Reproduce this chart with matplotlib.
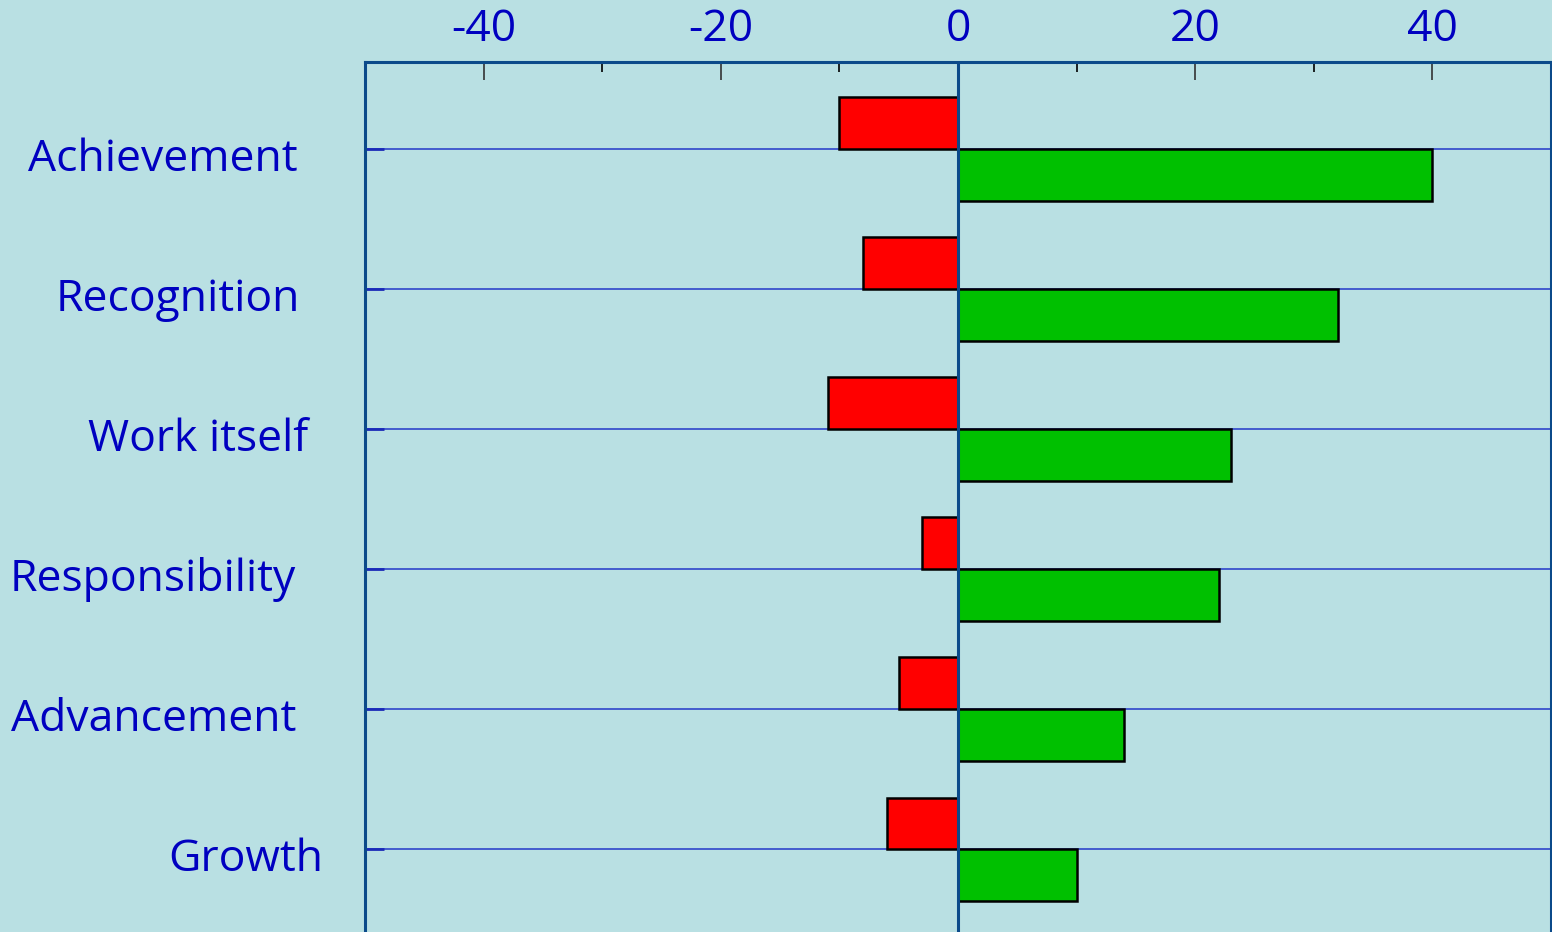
import numpy as np
import matplotlib
matplotlib.use("Agg")
import matplotlib.pyplot as plt
from matplotlib.ticker import MultipleLocator

plt.rcParams['font.family'] = ['Open Sans', 'DejaVu Sans']

# data
factors = ["Achievement", "Recognition", "Work itself", "Responsibility", "Advancement", "Growth"]
dissatisfaction = [-10, -8, -11, -3, -5, -6]   # red bars
satisfaction = [40, 32, 23, 22, 14, 10]        # green bars
xticks = [-40, -20, 0, 20, 40]

bg = '#b9e0e3'
spine_col = '#0b4a8a'
grid_col = '#2438c8'
text_col = '#0000c0'

fig = plt.figure(figsize=(15.52, 9.32), dpi=100, facecolor=bg)
ax = fig.add_axes([365/1552, 0, (1551-365)/1552, (932-62)/932], facecolor=bg)

y = np.arange(len(factors))
h = 0.37
ax.barh(y - h/2, dissatisfaction, height=h, color='#ff0000', edgecolor='black', linewidth=1.8, zorder=3)
ax.barh(y + h/2, satisfaction, height=h, color='#00c000', edgecolor='black', linewidth=1.8, zorder=3)

ax.set_xlim(-50, 50)
ax.set_ylim(5.59, -0.62)

# horizontal lines at each category
for yy in y:
    ax.axhline(yy, color=grid_col, lw=1.1, zorder=1)
ax.axvline(0, color=spine_col, lw=2.2, zorder=4)

ax.xaxis.tick_top()
ax.set_xticks(xticks)
ax.set_xticklabels([str(v) for v in xticks])
ax.xaxis.set_minor_locator(MultipleLocator(10))
ax.tick_params(axis='x', which='major', direction='in', length=13, width=1.2, color='#333333',
               labelsize=32, labelcolor=text_col, pad=7)
ax.tick_params(axis='x', which='minor', direction='in', length=7, width=1.2, color='black')

ax.set_yticks(y)
ax.set_yticklabels([])
ax.tick_params(axis='y', direction='in', length=14, width=2, color='#1a2ab8')

# category labels (right edges and baselines taken from the reference layout)
label_right = [298, 300, 308, 296, 296, 323]
for yy, name, xr in zip(y, factors, label_right):
    fig.text(xr/1552, 1 - (yy*140 + 171)/932, name, ha='right', va='baseline',
             fontsize=32, color=text_col)

for side in ['left', 'right', 'top']:
    ax.spines[side].set_color(spine_col)
    ax.spines[side].set_linewidth(2.2)
ax.spines['bottom'].set_visible(False)

fig.savefig('out.png', dpi=100, facecolor=bg)
